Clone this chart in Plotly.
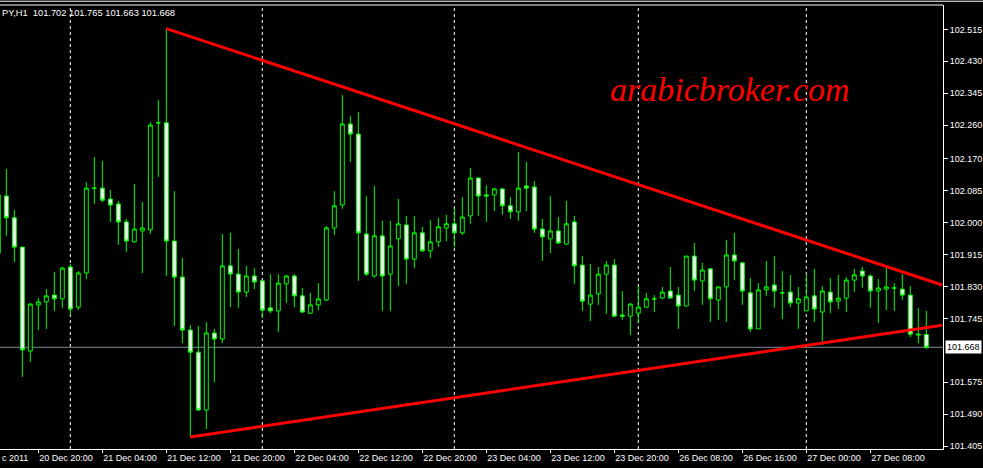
import plotly.graph_objects as go

# ---- data (USDJPY, H1) ----
bar_no = list(range(-1, 116))
opens = [101.919, 102.071, 102.013, 101.935, 101.658, 101.781, 101.789, 101.807, 101.797, 101.882,
         101.775, 101.866, 102.092, 102.092, 102.063, 102.050, 102.002, 101.949, 101.978, 101.981,
         102.266, 102.266, 101.951, 101.855, 101.714, 101.655, 101.501, 101.706, 101.690, 101.885,
         101.863, 101.815, 101.858, 101.845, 101.773, 101.765, 101.837, 101.858, 101.805, 101.759,
         101.781, 101.794, 101.986, 102.047, 102.263, 102.236, 101.970, 101.858, 101.965, 101.863,
         101.957, 101.994, 101.903, 101.973, 101.925, 101.949, 101.986, 101.997, 101.973, 102.018,
         102.119, 102.074, 102.074, 102.090, 102.045, 102.029, 102.098, 102.095, 101.983, 101.957,
         101.978, 101.943, 102.002, 101.887, 101.783, 101.810, 101.863, 101.887, 101.754, 101.751,
         101.759, 101.775, 101.797, 101.799, 101.818, 101.807, 101.778, 101.911, 101.845, 101.877,
         101.794, 101.829, 101.914, 101.893, 101.813, 101.717, 101.821, 101.834, 101.813, 101.815,
         101.786, 101.765, 101.805, 101.762, 101.815, 101.791, 101.799, 101.847, 101.871, 101.858,
         101.818, 101.823, 101.826, 101.823, 101.807, 101.703, 101.702]
highs = [102.087, 102.143, 102.034, 101.935, 101.786, 101.799, 101.823, 101.869, 101.882, 101.890,
         101.871, 102.108, 102.175, 102.164, 102.087, 102.058, 102.010, 102.103, 102.055, 102.268,
         102.327, 102.517, 102.084, 101.906, 101.727, 101.725, 101.735, 101.717, 101.970, 101.973,
         101.930, 101.885, 101.879, 101.847, 101.863, 101.863, 101.861, 101.863, 101.826, 101.813,
         101.839, 101.991, 102.084, 102.340, 102.284, 102.295, 102.071, 102.098, 102.005, 102.005,
         102.063, 102.018, 102.018, 101.989, 102.007, 102.013, 102.021, 102.039, 102.068, 102.146,
         102.122, 102.100, 102.092, 102.092, 102.068, 102.188, 102.162, 102.111, 102.010, 102.071,
         102.015, 102.058, 102.018, 101.911, 101.890, 101.882, 101.898, 101.903, 101.818, 101.786,
         101.831, 101.813, 101.807, 101.829, 101.882, 101.829, 101.911, 101.946, 101.893, 101.879,
         101.829, 101.954, 101.973, 101.893, 101.853, 101.839, 101.898, 101.911, 101.871, 101.861,
         101.829, 101.861, 101.877, 101.831, 101.853, 101.861, 101.855, 101.877, 101.882, 101.863,
         101.850, 101.879, 101.839, 101.863, 101.831, 101.773, 101.765]
lows = [101.906, 101.965, 101.895, 101.589, 101.629, 101.714, 101.717, 101.765, 101.773, 101.754,
        101.767, 101.850, 102.050, 102.055, 102.002, 101.941, 101.922, 101.946, 101.866, 101.970,
        102.122, 101.858, 101.725, 101.679, 101.429, 101.498, 101.450, 101.575, 101.679, 101.775,
        101.773, 101.802, 101.823, 101.746, 101.759, 101.709, 101.786, 101.775, 101.759, 101.757,
        101.767, 101.791, 101.967, 102.037, 102.162, 101.845, 101.858, 101.853, 101.765, 101.765,
        101.831, 101.837, 101.879, 101.922, 101.906, 101.935, 101.951, 101.935, 101.967, 101.997,
        102.018, 102.002, 102.031, 102.021, 102.010, 102.005, 102.031, 101.973, 101.898, 101.919,
        101.943, 101.941, 101.837, 101.765, 101.738, 101.781, 101.757, 101.749, 101.741, 101.701,
        101.733, 101.773, 101.762, 101.797, 101.799, 101.717, 101.778, 101.818, 101.781, 101.735,
        101.741, 101.735, 101.847, 101.781, 101.709, 101.717, 101.805, 101.773, 101.743, 101.775,
        101.717, 101.765, 101.735, 101.674, 101.759, 101.770, 101.762, 101.815, 101.826, 101.773,
        101.733, 101.767, 101.765, 101.794, 101.695, 101.679, 101.663]
closes = [102.074, 102.013, 101.935, 101.661, 101.783, 101.789, 101.805, 101.797, 101.879, 101.770,
          101.866, 102.092, 102.092, 102.060, 102.047, 102.002, 101.951, 101.983, 101.986, 102.260,
          102.266, 101.951, 101.855, 101.714, 101.655, 101.501, 101.706, 101.690, 101.885, 101.863,
          101.815, 101.858, 101.842, 101.767, 101.765, 101.839, 101.858, 101.805, 101.762, 101.781,
          101.797, 101.986, 102.045, 102.263, 102.236, 101.973, 101.863, 101.965, 101.858, 101.938,
          101.997, 101.903, 101.973, 101.925, 101.949, 101.989, 101.997, 101.973, 102.015, 102.119,
          102.071, 102.071, 102.090, 102.045, 102.029, 102.092, 102.092, 101.983, 101.962, 101.978,
          101.946, 101.997, 101.885, 101.791, 101.807, 101.863, 101.887, 101.751, 101.751, 101.783,
          101.775, 101.797, 101.797, 101.815, 101.799, 101.778, 101.911, 101.847, 101.874, 101.797,
          101.829, 101.914, 101.898, 101.818, 101.717, 101.821, 101.829, 101.818, 101.813, 101.786,
          101.797, 101.802, 101.770, 101.818, 101.789, 101.799, 101.847, 101.861, 101.858, 101.818,
          101.826, 101.829, 101.826, 101.807, 101.703, 101.701, 101.668]

time_tick_bars = [4, 12, 20, 28, 36, 44, 52, 60, 68, 76, 84, 92, 100, 108]
time_tick_labels = ["20 Dec 20:00", "21 Dec 04:00", "21 Dec 12:00", "21 Dec 20:00",
                    "22 Dec 04:00", "22 Dec 12:00", "22 Dec 20:00", "23 Dec 04:00",
                    "23 Dec 12:00", "23 Dec 20:00", "26 Dec 08:00", "26 Dec 16:00",
                    "27 Dec 00:00", "27 Dec 08:00"]
first_date_visible = "c 2011"          # what shows of "20 Dec 2011" at the left edge
day_separator_bars = [8, 32, 56, 79, 100]
price_ticks = [102.515, 102.430, 102.345, 102.260, 102.170, 102.085, 102.000,
               101.915, 101.830, 101.745, 101.575, 101.490, 101.405]
price_tick_labels = ["102.515", "102.430", "102.345", "102.260", "102.170", "102.085", "102.000",
                     "101.915", "101.830", "101.745", "101.575", "101.490", "101.405"]
upper_trend_bars = [20, 117]
upper_trend_prices = [102.517, 101.834]
lower_trend_bars = [23, 117]
lower_trend_prices = [101.429, 101.727]
last_price = 101.668
title_text = "PY,H1\u00a0\u00a0101.702 101.765 101.663 101.668"   # visible part of "USDJPY,H1 ..."
watermark = "arabicbroker.com"

assert len(opens) == len(highs) == len(lows) == len(closes) == len(bar_no)

GREEN = "#00FF00"
FONT = "Liberation Sans"

fig = go.Figure()
fig.add_trace(go.Candlestick(
    x=bar_no, open=opens, high=highs, low=lows, close=closes,
    increasing=dict(line=dict(color=GREEN, width=1), fillcolor="black"),
    decreasing=dict(line=dict(color=GREEN, width=1), fillcolor="white"),
    whiskerwidth=0, hoverinfo="skip", showlegend=False,
))
fig.add_trace(go.Scatter(x=upper_trend_bars, y=upper_trend_prices, mode="lines",
                         line=dict(color="#FF0000", width=3), showlegend=False, hoverinfo="skip"))
fig.add_trace(go.Scatter(x=lower_trend_bars, y=lower_trend_prices, mode="lines",
                         line=dict(color="#FF0000", width=3), showlegend=False, hoverinfo="skip"))

shapes = []
for b in day_separator_bars:
    shapes.append(dict(type="line", xref="x", yref="paper", x0=b, x1=b, y0=0, y1=1,
                       line=dict(color="white", width=1, dash="3px,3px"), layer="below"))
shapes.append(dict(type="line", xref="paper", yref="y", x0=0, x1=1, y0=last_price, y1=last_price,
                   line=dict(color="#7f8c9a", width=1), layer="below"))
# chart frame top and window top line
shapes.append(dict(type="line", xref="paper", yref="paper", x0=0, x1=1, y0=1, y1=1,
                   line=dict(color="white", width=1)))
shapes.append(dict(type="line", xref="paper", yref="paper", x0=0, x1=983 / 943, y0=1.0085, y1=1.0085,
                   line=dict(color="white", width=1)))

annotations = [
    dict(text=title_text, xref="paper", yref="paper", x=0.0, y=0.982,
         xanchor="left", yanchor="middle", showarrow=False,
         font=dict(family=FONT, size=9.3, color="white")),
    dict(text=first_date_visible, xref="paper", yref="paper", x=0.0, y=-0.005,
         xanchor="left", yanchor="top", showarrow=False,
         font=dict(family=FONT, size=9, color="white")),
    dict(text=watermark, xref="paper", yref="paper", x=730 / 943, y=0.81,
         xanchor="center", yanchor="middle", showarrow=False,
         font=dict(family="Liberation Serif", size=34, color="#FF0000", style="italic")),
    dict(text="101.668", xref="paper", yref="y", x=1.002, y=last_price,
         xanchor="left", yanchor="middle", showarrow=False, bgcolor="white",
         borderpad=1, font=dict(family=FONT, size=9, color="black")),
]

fig.update_layout(
    width=983, height=468,
    margin=dict(l=0, r=40, t=5, b=19),
    paper_bgcolor="black", plot_bgcolor="black",
    shapes=shapes, annotations=annotations,
    showlegend=False,
    xaxis=dict(range=[-0.79, 117.09], rangeslider=dict(visible=False),
               tickvals=time_tick_bars, ticktext=time_tick_labels,
               ticks="outside", ticklen=3, tickcolor="white",
               ticklabelposition="outside right",
               tickfont=dict(family=FONT, size=9, color="white"),
               showgrid=False, zeroline=False, showline=True, linecolor="white", linewidth=1),
    yaxis=dict(range=[101.397, 102.580], side="right",
               tickvals=price_ticks, ticktext=price_tick_labels,
               ticks="outside", ticklen=4, tickcolor="white",
               tickfont=dict(family=FONT, size=9, color="white"),
               showgrid=False, zeroline=False, showline=True, linecolor="white", linewidth=1),
)

fig.write_html(
    "out.html",
    config={"displayModeBar": False},
    post_script="document.body.style.margin='0';document.body.style.padding='0';"
                "document.body.style.background='black';document.body.style.overflow='hidden';",
)
